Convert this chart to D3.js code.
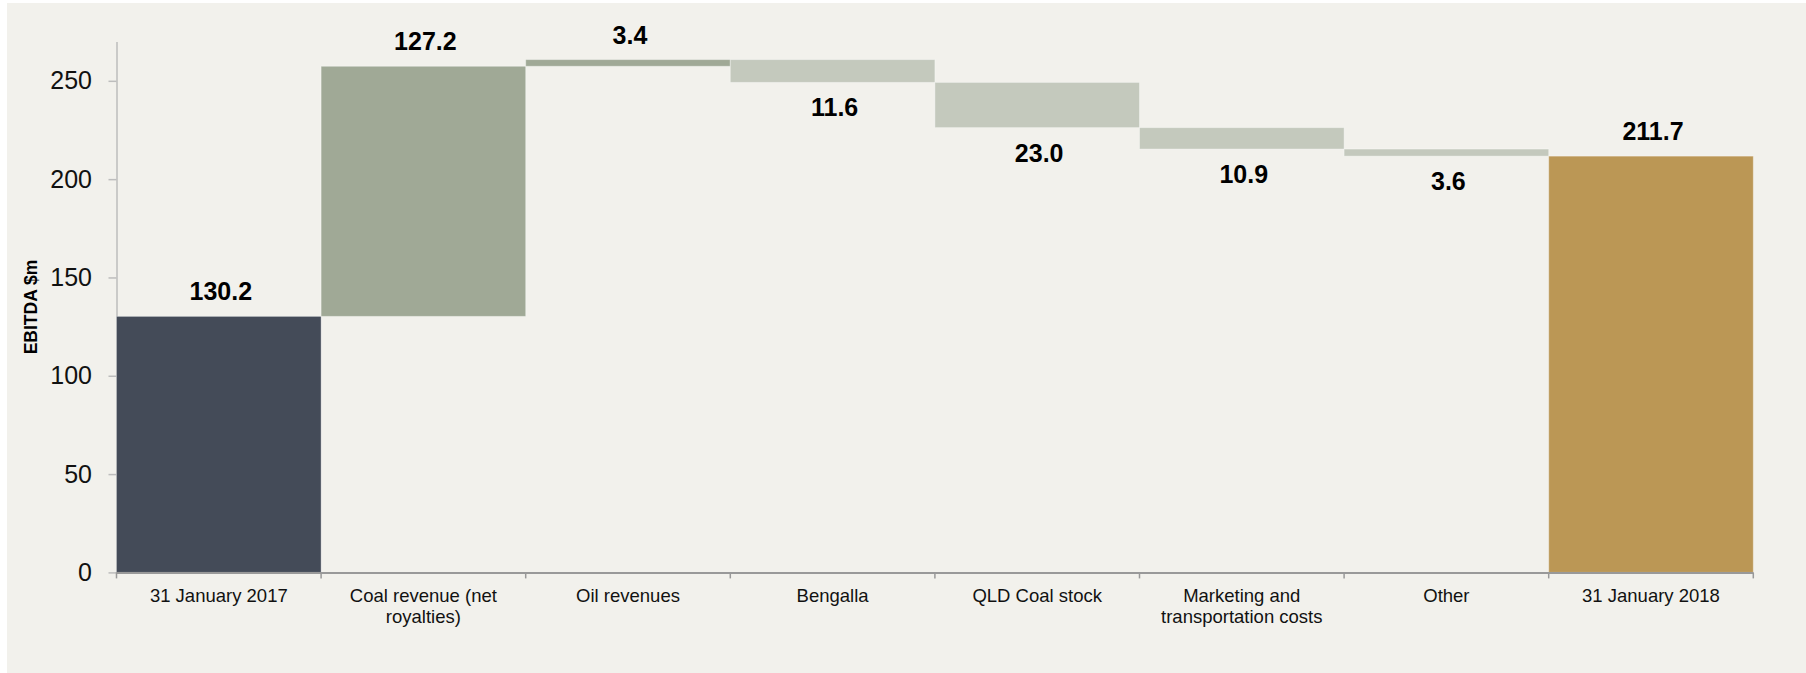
<!DOCTYPE html>
<html>
<head>
<meta charset="utf-8">
<script src="https://cdn.jsdelivr.net/npm/d3@7"></script>
<style>
  html, body { margin: 0; padding: 0; background: #ffffff; }
  svg { display: block; }
  text { font-family: "Liberation Sans", Arial, Helvetica, sans-serif; }
</style>
</head>
<body>
<svg id="chart" width="1806" height="673"></svg>
<script>
// EBITDA bridge, 31 January 2017 -> 31 January 2018 ($m)
const categories = [
  "31 January 2017",
  "Coal revenue (net royalties)",
  "Oil revenues",
  "Bengalla",
  "QLD Coal stock",
  "Marketing and transportation costs",
  "Other",
  "31 January 2018"
];
// Signed movements; first and last entries are the opening and closing totals
const values = [130.2, 127.2, 3.4, -11.6, -23.0, -10.9, -3.6, 211.7];
const kinds = ["total", "up", "up", "down", "down", "down", "down", "total"];
const yTicks = [0, 50, 100, 150, 200, 250];
const yMax = 270;

const colors = {
  start: "#444b58",
  end: "#bb9755",
  up: "#a0a996",
  down: "#c4c9bd"
};

// Build floating segments from the running total
let running = 0;
const bars = categories.map((c, i) => {
  const v = values[i];
  let lo, hi;
  if (kinds[i] === "total") {
    lo = 0; hi = v; running = v;
  } else {
    const prev = running;
    running = prev + v;
    lo = Math.min(prev, running); hi = Math.max(prev, running);
  }
  const fill = kinds[i] === "total" ? (i === 0 ? colors.start : colors.end)
             : (kinds[i] === "up" ? colors.up : colors.down);
  return { cat: c, value: v, kind: kinds[i], lo, hi, fill };
});

const svg = d3.select("#chart");

// Panel background
svg.append("rect")
  .attr("x", 7).attr("y", 3)
  .attr("width", 1806 - 7).attr("height", 673 - 3)
  .attr("fill", "#f2f1ec");

const plot = { left: 116.5, right: 1753.3, top: 41.5, bottom: 572.4 };

const x = d3.scaleBand().domain(categories).range([plot.left, plot.right]).padding(0);
const y = d3.scaleLinear().domain([0, yMax]).range([plot.bottom, plot.top]);

// Y axis
const yAxis = svg.append("g")
  .attr("transform", `translate(${plot.left},0)`)
  .call(d3.axisLeft(y).tickValues(yTicks).tickSize(8).tickSizeOuter(0).tickPadding(16.5));
yAxis.select(".domain").attr("stroke", "#bdbdbd").attr("stroke-width", 1.5);
yAxis.selectAll(".tick line").attr("stroke", "#bdbdbd").attr("stroke-width", 1.5);
yAxis.selectAll(".tick text")
  .attr("font-size", 25).attr("fill", "#111")
  .attr("font-family", "'Liberation Sans', Arial, sans-serif");

// Bars
svg.append("g").selectAll("rect")
  .data(bars)
  .join("rect")
  .attr("x", d => x(d.cat))
  .attr("width", x.bandwidth())
  .attr("y", d => y(d.hi))
  .attr("height", d => y(d.lo) - y(d.hi))
  .attr("fill", d => d.fill)
  .attr("stroke", "#ffffff")
  .attr("stroke-opacity", 0.35)
  .attr("stroke-width", 1);

// X axis line with ticks at category boundaries
const xAxis = svg.append("g");
xAxis.append("line")
  .attr("x1", plot.left).attr("x2", plot.right)
  .attr("y1", y(0) + 0.5).attr("y2", y(0) + 0.5)
  .attr("stroke", "#999999").attr("stroke-width", 2);
const bounds = categories.map(c => x(c)).concat([x(categories[categories.length - 1]) + x.bandwidth()]);
xAxis.selectAll("line.tick")
  .data(bounds)
  .join("line")
  .attr("class", "tick")
  .attr("x1", d => d).attr("x2", d => d)
  .attr("y1", y(0)).attr("y2", y(0) + 6)
  .attr("stroke", "#999999").attr("stroke-width", 1.5);

// Category labels, wrapped to fit a band
const catFont = 18.5;
const measure = svg.append("text").attr("font-size", catFont).attr("visibility", "hidden");
function wrapLines(str, maxW) {
  const words = str.split(" ");
  const lines = [];
  let cur = "";
  words.forEach(w => {
    const test = cur ? cur + " " + w : w;
    measure.text(test);
    if (measure.node().getComputedTextLength() > maxW && cur) {
      lines.push(cur); cur = w;
    } else cur = test;
  });
  if (cur) lines.push(cur);
  return lines;
}
const catLabels = svg.append("g");
categories.forEach(c => {
  const lines = wrapLines(c, 175);
  const t = catLabels.append("text")
    .attr("x", x(c) + x.bandwidth() / 2)
    .attr("y", y(0) + 29.3)
    .attr("text-anchor", "middle")
    .attr("font-size", catFont)
    .attr("fill", "#111");
  lines.forEach((ln, k) => {
    t.append("tspan")
      .attr("x", x(c) + x.bandwidth() / 2)
      .attr("dy", k === 0 ? 0 : 21.5)
      .text(ln);
  });
});
measure.remove();

// Value labels: above rising/total bars, below falling bars
svg.append("g").selectAll("text")
  .data(bars)
  .join("text")
  .attr("x", d => x(d.cat) + x.bandwidth() / 2 + 2)
  .attr("y", d => d.kind === "down" ? y(d.lo) + 34 : y(d.hi) - 16)
  .attr("text-anchor", "middle")
  .attr("font-size", 25)
  .attr("font-weight", "bold")
  .attr("fill", "#000")
  .text(d => Math.abs(d.value).toFixed(1));

// Y axis title
svg.append("text")
  .attr("transform", "translate(37,307) rotate(-90)")
  .attr("text-anchor", "middle")
  .attr("font-size", 17.5)
  .attr("font-weight", "bold")
  .attr("fill", "#000")
  .text("EBITDA $m");
</script>
</body>
</html>
